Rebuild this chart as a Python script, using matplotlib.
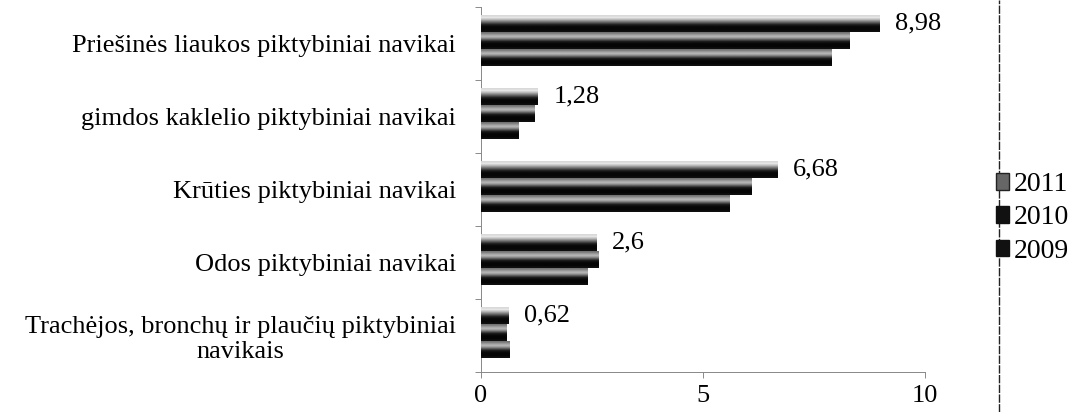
import numpy as np
import matplotlib
matplotlib.use("Agg")
import matplotlib.pyplot as plt
from matplotlib.patches import Patch
from matplotlib.lines import Line2D

categories = [
    "Priešinės liaukos piktybiniai navikai",
    "gimdos kaklelio piktybiniai navikai",
    "Krūties piktybiniai navikai",
    "Odos piktybiniai navikai",
    "Trachėjos, bronchų ir plaučių piktybiniai\nnavikais",
]
years = ["2011", "2010", "2009"]
values_2011 = [8.98, 1.28, 6.68, 2.6, 0.62]
values_2010 = [8.3, 1.2, 6.1, 2.65, 0.58]
values_2009 = [7.9, 0.85, 5.6, 2.4, 0.65]
labels_2011 = ["8,98", "1,28", "6,68", "2,6", "0,62"]
xticks = [0, 5, 10]

plt.rcParams['font.family'] = ['Liberation Serif', 'DejaVu Serif']

fig = plt.figure(figsize=(10.75, 4.12), dpi=100)
ax = fig.add_axes([481/1075, 1-372/412, (925-481)/1075, (372-7)/412])

n = len(categories)
ypos = np.arange(n)[::-1]  # first category on top
h = 0.235

# shading profile of a cylinder-like bar (top -> bottom)
profile_top = np.array([0.85, 0.9, 0.75, 0.55, 0.35, 0.15, 0.05, 0.03, 0.03, 0.06])
profile = np.array([0.45, 0.6, 0.72, 0.6, 0.35, 0.12, 0.04, 0.02, 0.02, 0.06])
cmap = plt.get_cmap('gray')

series = [values_2011, values_2010, values_2009]
shift = [h, 0.0, -h]
for s, vals in enumerate(series):
    for i, v in enumerate(vals):
        yc = ypos[i] + shift[s] + 0.04
        bars = ax.barh(yc, v, height=h * 0.98, color='#111111', edgecolor='none', zorder=2)
        rect = bars[0]
        prof = profile_top if s == 0 else profile
        img = ax.imshow(prof.reshape(-1, 1), cmap=cmap, vmin=0, vmax=1,
                        extent=[0, v, yc - h * 0.49, yc + h * 0.49],
                        aspect='auto', origin='upper', zorder=3, interpolation='bilinear')
        img.set_clip_path(rect)
    if s == 0:
        for i, v in enumerate(vals):
            yc = ypos[i] + shift[s] + 0.04
            ax.text(v + 0.35, yc + 0.0, labels_2011[i], fontsize=19, va='center', ha='left',
                    color='black')

ax.set_xlim(0, 10)
ax.set_ylim(-0.5, n - 0.5)
ax.set_xticks(xticks)
ax.set_xticklabels([str(t) for t in xticks], fontsize=19)
ax.set_yticks(ypos)
ax.set_yticklabels(categories, fontsize=19, multialignment='center')
ax.set_yticks(np.arange(-0.5, n, 1.0), minor=True)
ax.tick_params(axis='y', which='major', length=0, pad=18)
ax.tick_params(axis='y', which='minor', length=4, color='#777777', width=0.6)
ax.tick_params(axis='x', length=4, color='#777777', width=0.6, pad=5)
for side in ['top', 'right']:
    ax.spines[side].set_visible(False)
for side in ['left', 'bottom']:
    ax.spines[side].set_color('#888888')
    ax.spines[side].set_linewidth(0.7)
    ax.spines[side].set_linestyle((0, (2, 1)))

# vertical border line near legend
fig.add_artist(Line2D([999/1075, 999/1075], [0, 1], transform=fig.transFigure,
                      color='#222222', linewidth=1.0, linestyle=(0, (6, 1))))

handles = [Patch(facecolor='#666666', edgecolor='#222222'),
           Patch(facecolor='#111111', edgecolor='#111111'),
           Patch(facecolor='#111111', edgecolor='#111111')]
fig.legend(handles, years, loc='center left', bbox_to_anchor=(996/1075, 1-218/412),
           frameon=False, fontsize=20, handlelength=0.45, handleheight=0.55,
           handletextpad=0.2, labelspacing=0.3, borderaxespad=0, borderpad=0)

fig.savefig("out.png", dpi=100, facecolor='white')
